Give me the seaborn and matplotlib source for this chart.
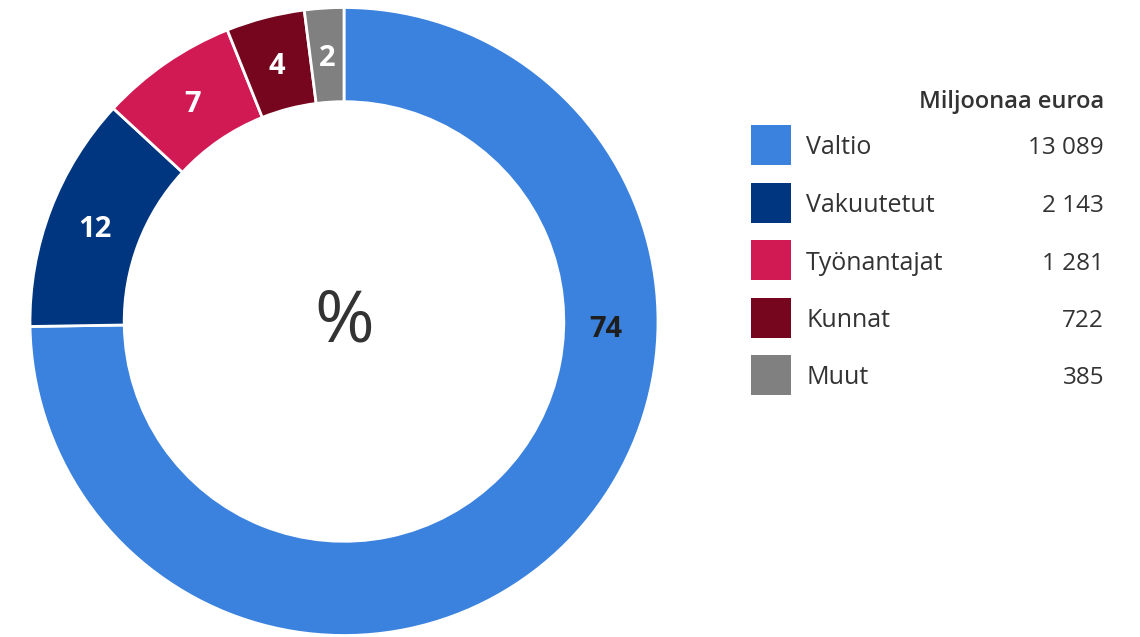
import numpy as np
import matplotlib
matplotlib.use("Agg")
import matplotlib.pyplot as plt
import seaborn as sns

categories = ["Valtio", "Vakuutetut", "Työnantajat", "Kunnat", "Muut"]
values = [13089, 2143, 1281, 722, 385]
value_labels = ["13 089", "2 143", "1 281", "722", "385"]
pct_values = [74, 12, 7, 4, 2]
colors = ["#3b82de", "#003580", "#d11a53", "#76051e", "#808080"]
legend_title = "Miljoonaa euroa"
center_text = "%"

sns.set_theme(style="white")
plt.rcParams["font.family"] = ["Open Sans", "DejaVu Sans"]

W, H = 1140, 637
fig = plt.figure(figsize=(W / 100, H / 100), dpi=100)

# Donut axes: center (344, 321.5) px, radius 314 px
cx, cy, R = 344, 321.5, 314
ax = fig.add_axes([(cx - R) / W, (H - cy - R) / H, 2 * R / W, 2 * R / H])
wedges, _ = ax.pie(pct_values, colors=colors, startangle=90, counterclock=False,
                   radius=1.0,
                   wedgeprops=dict(width=0.3, edgecolor="white", linewidth=2))
ax.set_xlim(-1, 1)
ax.set_ylim(-1, 1)
ax.set_aspect("auto")
ax.axis("off")

fs_lbl = 21
cap_off = 0.72 * fs_lbl * 100 / 72 / 2 / R
for i, w in enumerate(wedges):
    if i == 0:
        ang = np.deg2rad(-1.2)
        r = 0.835
        col = "#1e1e1e"
    else:
        ang = np.deg2rad((w.theta1 + w.theta2) / 2)
        r = 0.85
        col = "white"
    ax.text(r * np.cos(ang), r * np.sin(ang) - cap_off, str(pct_values[i]),
            ha="center", va="baseline", fontsize=fs_lbl, fontweight="bold",
            color=col)

ax.text(0.0, (cy - 342) / R, center_text, ha="center", va="baseline",
        fontsize=52, color="#333333")

# Legend axes in pixel coordinates
lx0, lx1, ly0, ly1 = 740, 1115, 80, 405
lax = fig.add_axes([lx0 / W, (H - ly1) / H, (lx1 - lx0) / W, (ly1 - ly0) / H])
lax.set_xlim(lx0, lx1)
lax.set_ylim(ly1, ly0)
lax.axis("off")

row_y = [145 + 57.5 * i for i in range(len(categories))]
lax.bar([771] * len(categories), [40] * len(categories), width=40,
        bottom=[y - 20 for y in row_y], color=colors, linewidth=0)
for i, y in enumerate(row_y):
    lax.text(806, y + 9.5, categories[i], ha="left", va="baseline",
             fontsize=18, color="#333333")
    lax.text(1104, y + 9.5, value_labels[i], ha="right", va="baseline",
             fontsize=17.5, color="#333333")
lax.text(1104, 108, legend_title, ha="right", va="baseline", fontsize=17,
         fontweight="semibold", color="#333333")

fig.savefig("out.png", dpi=100, facecolor="white")
